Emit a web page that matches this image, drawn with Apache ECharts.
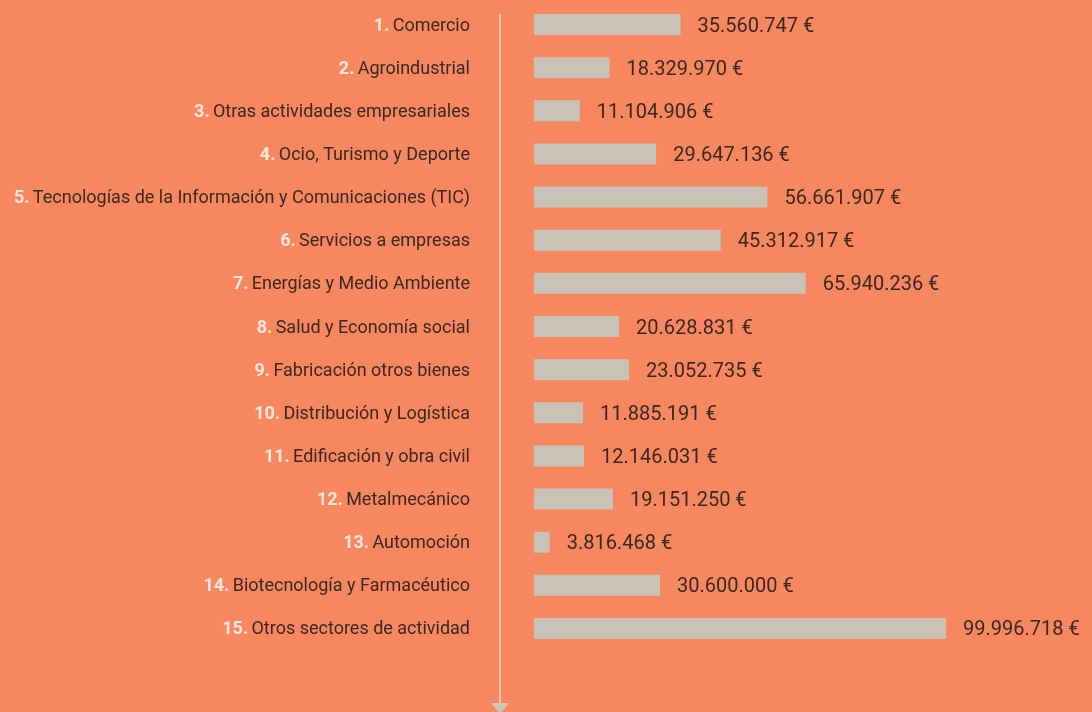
<!DOCTYPE html>
<html>
<head>
<meta charset="utf-8">
<script src="https://cdn.jsdelivr.net/npm/echarts@6/dist/echarts.min.js"></script>
<style>
  html, body { margin: 0; padding: 0; background: #f6875f; }
  #chart { width: 1092px; height: 712px; }
</style>
</head>
<body>
<div id="chart"></div>
<script>
const categories = [
  'Comercio',
  'Agroindustrial',
  'Otras actividades empresariales',
  'Ocio, Turismo y Deporte',
  'Tecnologías de la Información y Comunicaciones (TIC)',
  'Servicios a empresas',
  'Energías y Medio Ambiente',
  'Salud y Economía social',
  'Fabricación otros bienes',
  'Distribución y Logística',
  'Edificación y obra civil',
  'Metalmecánico',
  'Automoción',
  'Biotecnología y Farmacéutico',
  'Otros sectores de actividad'
];
const amounts = [
  35560747, 18329970, 11104906, 29647136, 56661907,
  45312917, 65940236, 20628831, 23052735, 11885191,
  12146031, 19151250, 3816468, 30600000, 99996718
];

const font = 'Roboto, "Noto Sans", sans-serif';

function euro(v) {
  return String(v).replace(/\B(?=(\d{3})+(?!\d))/g, '.') + ' €';
}

const chart = echarts.init(document.getElementById('chart'));
chart.setOption({
  backgroundColor: '#f6875f',
  animation: false,
  grid: { left: 534, top: 3, width: 412, height: 647 },
  xAxis: {
    type: 'value',
    min: 0,
    max: 100000000,
    show: false
  },
  yAxis: {
    type: 'category',
    inverse: true,
    data: categories,
    axisLine: { show: false },
    axisTick: { show: false },
    axisLabel: {
      margin: 64,
      formatter: function (v, i) {
        return '{n|' + (i + 1) + '.} {t|' + v + '}';
      },
      rich: {
        n: { fontFamily: font, fontSize: 18, fontWeight: 'bold', color: '#fbe6dc', padding: [3, 0, 0, 0] },
        t: { fontFamily: font, fontSize: 18, color: '#3a2823', padding: [3, 0, 0, 0] }
      }
    }
  },
  series: [
    {
      type: 'bar',
      data: amounts,
      barWidth: 21,
      itemStyle: { color: '#c9c2b6' },
      label: {
        show: true,
        position: 'right',
        distance: 17,
        offset: [0, 2],
        fontFamily: font,
        fontSize: 20,
        color: '#3a2823',
        formatter: function (p) { return euro(p.value); }
      }
    }
  ],
  graphic: [
    {
      type: 'line',
      shape: { x1: 500, y1: 14, x2: 500, y2: 704 },
      style: { stroke: '#e3c4b0', lineWidth: 2 }
    },
    {
      type: 'polygon',
      shape: { points: [[491, 703], [509, 703], [500, 714]] },
      style: { fill: '#cfc5b8' }
    }
  ]
});
</script>
</body>
</html>
